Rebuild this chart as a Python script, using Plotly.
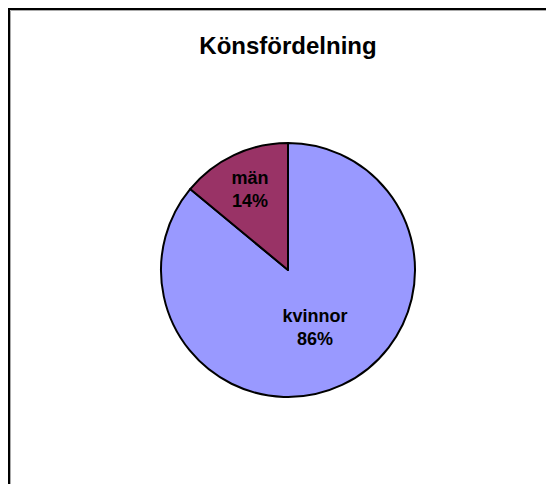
import plotly.graph_objects as go

labels = ["kvinnor", "män"]
values = [86, 14]
colors = ["#9999FF", "#993366"]
title_text = "Könsfördelning"

W, H = 546, 484
cx, cy, r = 288, 270, 127

fig = go.Figure(go.Pie(
    labels=labels,
    values=values,
    sort=False,
    direction="clockwise",
    rotation=0,
    marker=dict(colors=colors, line=dict(color="black", width=2)),
    texttemplate="<b>%{label}<br>%{percent:.0%}</b>",
    textposition="inside",
    insidetextorientation="horizontal",
    textfont=dict(family="Liberation Sans, Arial", size=18, color="black"),
    showlegend=False,
    hoverinfo="label+percent",
    domain=dict(x=[(cx - r) / W, (cx + r) / W], y=[(H - cy - r) / H, (H - cy + r) / H]),
))

fig.update_layout(
    width=W, height=H,
    margin=dict(l=0, r=0, t=0, b=0),
    paper_bgcolor="white",
    plot_bgcolor="white",
    title=dict(text="<b>" + title_text + "</b>", x=cx / W, xanchor="center",
               y=(H - 46) / H, yanchor="middle",
               font=dict(family="Liberation Sans, Arial", size=24, color="black")),
    shapes=[
        dict(type="line", xref="paper", yref="paper", x0=9 / W, x1=9 / W, y0=-0.1, y1=(H - 8) / H,
             line=dict(color="black", width=2)),
        dict(type="line", xref="paper", yref="paper", x0=8 / W, x1=1.1, y0=(H - 9) / H, y1=(H - 9) / H,
             line=dict(color="black", width=2)),
        dict(type="line", xref="paper", yref="paper", x0=10.5 / W, x1=10.5 / W, y0=-0.1, y1=(H - 10.5) / H,
             line=dict(color="#aaaaaa", width=1)),
        dict(type="line", xref="paper", yref="paper", x0=10.5 / W, x1=1.1, y0=(H - 10.5) / H, y1=(H - 10.5) / H,
             line=dict(color="#aaaaaa", width=1)),
    ],
)

fig.write_html("out.html",
               config={"displayModeBar": False},
               post_script="document.body.style.margin='0';document.body.style.overflow='hidden';")
